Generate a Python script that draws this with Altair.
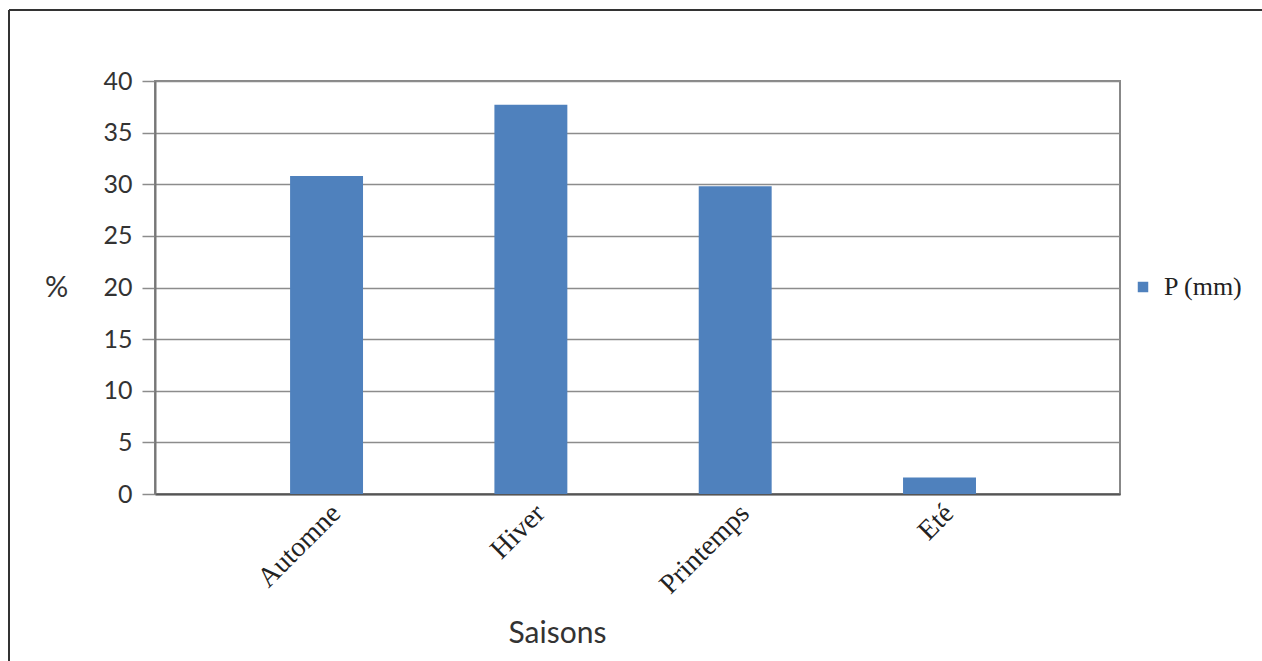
import altair as alt
import pandas as pd

# Seasonal share of precipitation
saisons = ["Automne", "Hiver", "Printemps", "Eté"]
valeurs = [30.8, 37.7, 29.8, 1.6]
serie = "P (mm)"
y_ticks = [0, 5, 10, 15, 20, 25, 30, 35, 40]

df = pd.DataFrame({"Saison": saisons, "Valeur": valeurs, "Serie": [serie] * len(saisons)})

BLUE = "#4f81bd"
SERIF = "Liberation Serif"
SANS = "Lato"

bars = alt.Chart(df).mark_bar(color=BLUE).encode(
    x=alt.X(
        "Saison:N",
        sort=saisons,
        scale=alt.Scale(paddingInner=0.643, paddingOuter=0.683, align=0.484),
        axis=alt.Axis(
            labelAngle=-45,
            labelFont=SERIF,
            labelFontSize=28,
            labelColor="#222222",
            labelPadding=5,
            ticks=False,
            domainColor="#555555",
            domainWidth=2,
            title="Saisons",
            titleFont=SANS,
            titleFontSize=30,
            titleFontWeight="normal",
            titleColor="#333333",
            titleX=402,
            titleY=139,
            titleAlign="center",
            titleBaseline="middle",
        ),
    ),
    y=alt.Y(
        "Valeur:Q",
        scale=alt.Scale(domain=[0, 40], nice=False),
        axis=alt.Axis(
            values=y_ticks,
            title="%",
            titleAngle=0,
            titleFont=SANS,
            titleFontSize=29,
            titleFontWeight="normal",
            titleColor="#333333",
            titleX=-99,
            titleY=206,
            titleAlign="center",
            titleBaseline="middle",
            labelFont=SANS,
            labelFontSize=25,
            labelColor="#333333",
            labelPadding=10,
            tickSize=13,
            tickColor="#8c8c8c",
            tickWidth=1.5,
            grid=True,
            gridColor="#8c8c8c",
            gridWidth=1.5,
            domainColor="#777777",
            domainWidth=2,
        ),
    ),
    color=alt.Color(
        "Serie:N",
        scale=alt.Scale(range=[BLUE]),
        legend=alt.Legend(
            title=None,
            orient="none",
            legendX=975,
            legendY=193,
            symbolType="square",
            symbolSize=110,
            symbolStrokeWidth=0,
            labelFont=SERIF,
            labelFontSize=26,
            labelColor="#222222",
            labelOffset=8,
        ),
    ),
)

# Outer frame lines (top and left)
frame_df = pd.DataFrame({"k": [0]})
top_line = alt.Chart(frame_df).mark_rule(color="#333333", strokeWidth=2).encode(
    x=alt.value(-146), x2=alt.value(1110), y=alt.value(-71)
)
left_line = alt.Chart(frame_df).mark_rule(color="#333333", strokeWidth=2).encode(
    x=alt.value(-146), y=alt.value(-71), y2=alt.value(600)
)

chart = (
    alt.layer(bars, top_line, left_line)
    .properties(
        width=965,
        height=413,
        autosize=alt.AutoSizeParams(type="none"),
        padding={"left": 155, "top": 81, "right": 142, "bottom": 167},
        background="white",
    )
    .configure_view(stroke="#888888", strokeWidth=2)
)

chart.save("out.html", embed_options={"renderer": "svg", "actions": False})
